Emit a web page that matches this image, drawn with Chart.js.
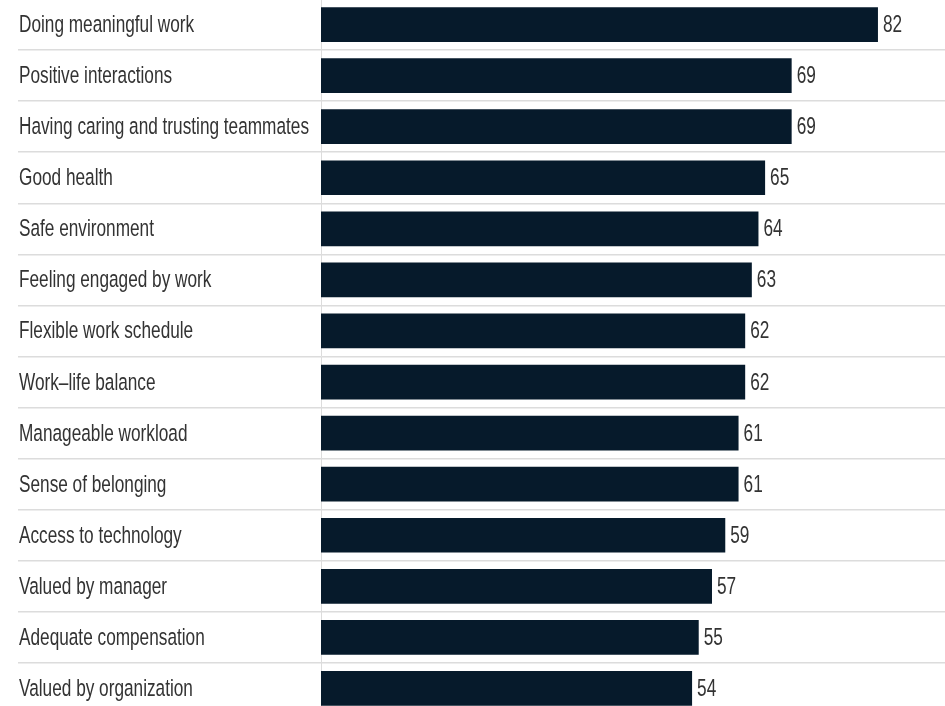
<!DOCTYPE html>
<html>
<head>
<meta charset="utf-8">
<script src="https://cdn.jsdelivr.net/npm/chart.js@4/dist/chart.umd.min.js"></script>
<style>
  html, body { margin: 0; padding: 0; background: #ffffff; overflow: hidden; }
  #wrap { position: absolute; left: 0; top: -1px; width: 945px; height: 715px; }
</style>
</head>
<body>
<div id="wrap"><canvas id="c" width="945" height="715"></canvas></div>
<script>
const categories = [
  "Doing meaningful work",
  "Positive interactions",
  "Having caring and trusting teammates",
  "Good health",
  "Safe environment",
  "Feeling engaged by work",
  "Flexible work schedule",
  "Work\u2013life balance",
  "Manageable workload",
  "Sense of belonging",
  "Access to technology",
  "Valued by manager",
  "Adequate compensation",
  "Valued by organization"
];
const values = [82, 69, 69, 65, 64, 63, 62, 62, 61, 61, 59, 57, 55, 54];

const FONT_FAMILY = "'Liberation Sans', Arial, sans-serif";
const FONT_SIZE = 21;
const SCALE_X = 0.82;
const SCALE_Y = 1.12;
const TEXT_COLOR = '#333333';
const BAR_COLOR = '#061a2b';
const GRID_COLOR = '#dcdcdc';
const AXIS_START = -1.9;

function narrowText(ctx, text, x, y) {
  ctx.save();
  ctx.translate(x, y);
  ctx.scale(SCALE_X, SCALE_Y);
  ctx.fillText(text, 0, 0);
  ctx.restore();
}

const textPlugin = {
  id: 'textPlugin',
  afterDatasetsDraw(chart) {
    const ctx = chart.ctx;
    const meta = chart.getDatasetMeta(0);
    const yScale = chart.scales.y;
    ctx.save();
    ctx.font = FONT_SIZE + 'px ' + FONT_FAMILY;
    ctx.fillStyle = TEXT_COLOR;
    ctx.textAlign = 'left';
    ctx.textBaseline = 'middle';
    categories.forEach((c, i) => {
      narrowText(ctx, c, yScale.left + 1, yScale.getPixelForTick(i) + 1);
    });
    meta.data.forEach((bar, i) => {
      narrowText(ctx, String(values[i]), bar.x + 5, bar.y + 1);
    });
    ctx.restore();
  }
};

new Chart(document.getElementById('c'), {
  type: 'bar',
  data: {
    labels: categories,
    datasets: [{
      data: values,
      base: AXIS_START,
      backgroundColor: BAR_COLOR,
      borderWidth: 0,
      categoryPercentage: 1,
      barPercentage: 0.68
    }]
  },
  options: {
    indexAxis: 'y',
    responsive: false,
    animation: false,
    devicePixelRatio: 1,
    layout: { padding: { left: 18, right: 0, top: 0, bottom: 0 } },
    plugins: { legend: { display: false }, tooltip: { enabled: false } },
    scales: {
      x: {
        display: false,
        min: AXIS_START,
        max: 92.1
      },
      y: {
        position: 'left',
        offset: true,
        afterFit(scale) {
          scale.width = 303;
          scale.paddingTop = 0;
          scale.paddingBottom = 0;
        },
        grid: {
          offset: true,
          color: GRID_COLOR,
          lineWidth: 1.5,
          drawTicks: true,
          tickLength: 303
        },
        border: { display: true, color: GRID_COLOR, width: 1 },
        ticks: { display: false, autoSkip: false }
      }
    }
  },
  plugins: [textPlugin]
});
</script>
</body>
</html>
